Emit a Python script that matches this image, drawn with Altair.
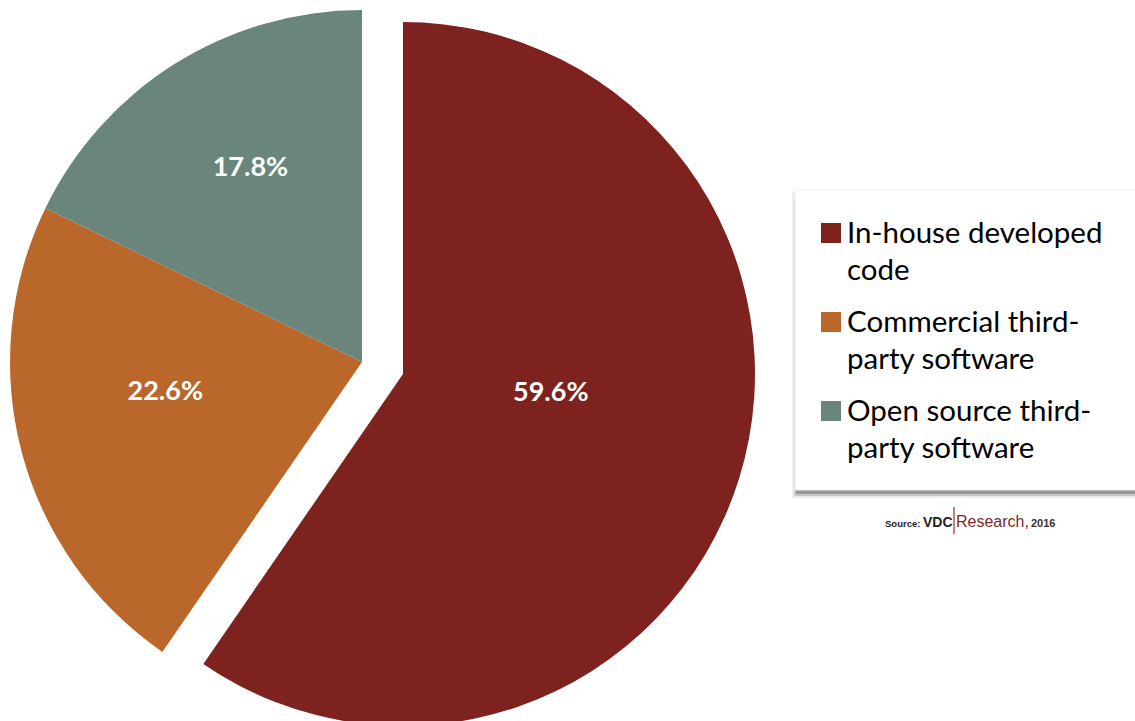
import altair as alt
import pandas as pd

# ---- data ----
categories = ["In-house developed code", "Commercial third-party software", "Open source third-party software"]
values = [59.6, 22.6, 17.8]
legend_labels = ["In-house developed\ncode", "Commercial third-\nparty software", "Open source third-\nparty software"]
colors = ["#7E2220", "#B9672A", "#6A867C"]

starts, ends, mids = [], [], []
acc = 0.0
for v in values:
    starts.append(acc)
    ends.append(acc + v)
    mids.append(acc + v / 2)
    acc += v

df = pd.DataFrame({
    "category": categories,
    "value": values,
    "start": starts,
    "end": ends,
    "mid": mids,
    "order": list(range(len(categories))),
    "pct": [f"{v:.1f}%" for v in values],
    "legend": legend_labels,
})

theta_scale = alt.Scale(domain=[0, 100], range=[0, 6.283185307179586])
color_scale = alt.Scale(domain=categories, range=colors)

CX, CY, R = 362, 362, 352
EX, EY = 41, 12  # explode offset of the first slice

base = alt.Chart(df)

def arc_layer(cat, cx, cy):
    return base.transform_filter(alt.datum.category == cat).mark_arc(radius=R).encode(
        theta=alt.Theta("start:Q", scale=theta_scale),
        theta2="end:Q",
        color=alt.Color("category:N", scale=color_scale, legend=None),
        x=alt.value(cx), y=alt.value(cy),
    )

def label_layer(cat, cx, cy, r, toff):
    return base.transform_filter(alt.datum.category == cat).mark_text(
        radius=r, thetaOffset=toff, font="Lato", fontSize=27, fontWeight="bold",
        color="white", align="center", baseline="middle",
    ).encode(
        theta=alt.Theta("mid:Q", scale=theta_scale),
        text="pct:N",
        x=alt.value(cx), y=alt.value(cy),
    )

arcs = [
    arc_layer(categories[0], CX + EX, CY + EY),
    arc_layer(categories[1], CX, CY),
    arc_layer(categories[2], CX, CY),
]
labels = [
    label_layer(categories[0], CX + EX, CY + EY, 149, -0.174),
    label_layer(categories[1], CX, CY, 199, 0.106),
    label_layer(categories[2], CX, CY, 224, 0.038),
]

# ---- legend box with shadow ----
box_df = pd.DataFrame({"k": [0]})
boxb = alt.Chart(box_df)
shadow0 = boxb.mark_rect(color="#cccccc", opacity=0.35).encode(
    x=alt.value(792), x2=alt.value(1135), y=alt.value(192), y2=alt.value(498))
shadow1 = boxb.mark_rect(color="#9a9a9a", opacity=0.45).encode(
    x=alt.value(794), x2=alt.value(1135), y=alt.value(200), y2=alt.value(496))
shadow2 = boxb.mark_rect(color="#6f6f6f", opacity=0.55).encode(
    x=alt.value(796), x2=alt.value(1135), y=alt.value(400), y2=alt.value(494))
box = boxb.mark_rect(color="white", stroke="#f0f0f0", strokeWidth=1).encode(
    x=alt.value(795), x2=alt.value(1136), y=alt.value(190), y2=alt.value(490))

leg_y = alt.Y("order:Q", scale=alt.Scale(domain=[0, 2], range=[243, 421]), axis=None)
leg_sq = base.mark_square(size=400, opacity=1, yOffset=-10).encode(
    x=alt.value(831), y=leg_y,
    color=alt.Color("category:N", scale=color_scale, legend=None),
)
leg_txt = base.mark_text(
    align="left", baseline="alphabetic", lineBreak="\n", lineHeight=37,
    font="Lato", fontSize=29.5, color="black",
).encode(x=alt.value(847), y=leg_y, text="legend:N")

# ---- source note ----
src_parts = ["Source:", "VDC", "Research,", "2016"]
def src_text(t, x, size, weight, color, font):
    return alt.Chart(pd.DataFrame({"t": [t]})).mark_text(
        align="left", baseline="alphabetic", font=font, fontSize=size,
        fontWeight=weight, color=color,
    ).encode(x=alt.value(x), y=alt.value(527), text="t:N")

src = [
    src_text(src_parts[0], 885, 9.5, "bold", "#222222", "Liberation Sans"),
    src_text(src_parts[1], 923, 14, "bold", "#222222", "Liberation Sans"),
    src_text(src_parts[2], 956, 16, "normal", "#7a2a2a", "Liberation Sans"),
    src_text(src_parts[3], 1031, 11, "bold", "#333333", "Liberation Sans"),
]
src_line = boxb.mark_rule(color="#9b2b2b", strokeWidth=1.2).encode(
    x=alt.value(954), y=alt.value(507), y2=alt.value(534))

chart = alt.layer(
    *arcs, *labels, shadow0, shadow1, shadow2, box, leg_sq, leg_txt, *src, src_line
).properties(
    width=1135, height=721, padding=0, autosize=alt.AutoSizeParams(type="none"),
    background="white",
).configure_view(stroke=None)

chart.save("out.html", embed_options={"renderer": "svg", "actions": False})
